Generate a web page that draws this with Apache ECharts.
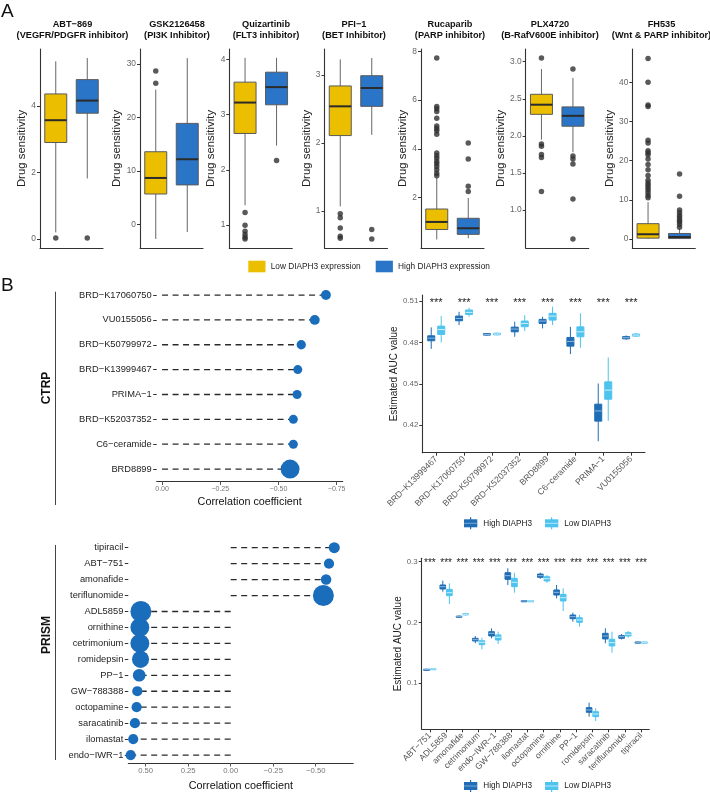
<!DOCTYPE html>
<html><head><meta charset="utf-8">
<script src="https://cdn.jsdelivr.net/npm/echarts@6/dist/echarts.min.js"></script>
<style>html,body{margin:0;padding:0;background:#fff}#c{width:710px;height:794px}</style>
</head><body><div id="c"></div>
<script>
// ================= DATA =================
// ---- Panel A ----
const drugNamesA = ['ABT−869', 'GSK2126458', 'Quizartinib', 'PFI−1', 'Rucaparib', 'PLX4720', 'FH535'];
const drugTargetsA = ['(VEGFR/PDGFR inhibitor)', '(PI3K Inhibitor)', '(FLT3 inhibitor)', '(BET Inhibitor)', '(PARP inhibitor)', '(B-RafV600E inhibitor)', '(Wnt & PARP inhibitor)'];
const groupNamesA = ['Low DIAPH3 expression', 'High DIAPH3 expression'];
// [lower whisker, Q1, median, Q3, upper whisker]
const lowBoxA = [
  [0.2, 2.9, 3.57, 4.36, 5.34],
  [-2.7, 5.7, 8.7, 13.6, 25.2],
  [1.36, 2.66, 3.22, 3.59, 4.03],
  [1.07, 2.11, 2.54, 2.84, 3.23],
  [0.28, 0.69, 1.0, 1.53, 2.81],
  [1.95, 2.29, 2.42, 2.56, 2.90],
  [0, 0.2, 1.2, 3.9, 9.4]
];
const highBoxA = [
  [1.82, 3.78, 4.16, 4.79, 5.44],
  [-1.4, 7.4, 12.2, 18.9, 31.1],
  [2.44, 3.18, 3.5, 3.77, 4.03],
  [2.12, 2.54, 2.81, 2.99, 3.25],
  [0.33, 0.49, 0.74, 1.15, 1.98],
  [1.78, 2.13, 2.27, 2.39, 2.78],
  [0, 0.1, 0.5, 1.4, 2.6]
];
const lowOutA = [
  [0.03],
  [26.4, 28.7],
  [1.23, 1.0, 0.89, 0.83, 0.78, 0.75],
  [0.96, 0.9, 0.75, 0.63, 0.6],
  [7.73, 5.74, 5.65, 5.53, 5.26, 4.94, 4.84, 4.74, 4.6, 3.83, 3.72, 3.61, 3.48, 3.39, 3.28, 3.14, 3.0, 2.9],
  [3.05, 1.89, 1.86, 1.75, 1.71, 1.25],
  [46.1, 40.0, 34.2, 33.8, 25.2, 24.5, 22.5, 22.0, 21.5, 20.4, 19.0, 17.7, 16.2, 15.0, 14.3, 13.7, 13.1, 12.5, 11.8, 11.1, 10.5]
];
const highOutA = [
  [0.03],
  [],
  [2.17],
  [0.73, 0.59],
  [4.24, 3.58, 2.47, 2.25],
  [2.9, 1.73, 1.69, 1.62, 1.15, 0.61],
  [16.6, 10.9, 7.4, 6.7, 6.0, 5.4, 4.8, 4.3, 3.7, 3.0]
];
const yTicksA = [[0, 2, 4], [0, 10, 20, 30], [1, 2, 3, 4], [1, 2, 3], [2, 4, 6, 8], [1.0, 1.5, 2.0, 2.5, 3.0], [0, 10, 20, 30, 40]];
const yRangeA = [[-0.27, 5.71], [-4.39, 32.8], [0.586, 4.19], [0.457, 3.383], [-0.07, 8.1], [0.49, 3.17], [-2.31, 48.5]];

// ---- Panel B: correlation lollipops ----
const ctrpDrugs = ['BRD−K17060750', 'VU0155056', 'BRD−K50799972', 'BRD−K13999467', 'PRIMA−1', 'BRD−K52037352', 'C6−ceramide', 'BRD8899'];
const ctrpCor = [-0.704, -0.656, -0.598, -0.583, -0.580, -0.564, -0.564, -0.550];
const ctrpDot = [3.3, 3.3, 3.1, 3.0, 3.0, 3.0, 3.0, 6.3];
const prismDrugs = ['tipiracil', 'ABT−751', 'amonafide', 'teriflunomide', 'ADL5859', 'ornithine', 'cetrimonium', 'romidepsin', 'PP−1', 'GW−788388', 'octopamine', 'saracatinib', 'ilomastat', 'endo−IWR−1'];
const prismCor = [-0.609, -0.578, -0.561, -0.545, 0.528, 0.534, 0.534, 0.530, 0.538, 0.549, 0.553, 0.563, 0.573, 0.588];
const prismDot = [3.7, 3.4, 3.5, 7.0, 7.0, 6.3, 6.3, 5.7, 4.2, 3.4, 3.4, 3.4, 3.4, 3.4];
const corTicksCTRP = [0, -0.25, -0.5, -0.75];
const corTicksPRISM = [0.5, 0.25, 0, -0.25, -0.5];

// ---- Panel B: estimated AUC boxplots ----
const ctrpBoxDrugs = ['BRD−K13999467', 'BRD−K17060750', 'BRD−K50799972', 'BRD−K52037352', 'BRD8899', 'C6−ceramide', 'PRIMA−1', 'VU0155056'];
const ctrpHigh = [
  [0.4753, 0.4812, 0.4831, 0.4848, 0.4909],
  [0.4926, 0.4957, 0.4974, 0.4991, 0.5022],
  [0.4850, 0.4853, 0.4858, 0.4864, 0.4867],
  [0.4841, 0.4877, 0.4897, 0.4911, 0.4950],
  [0.4902, 0.4938, 0.4955, 0.4967, 0.4986],
  [0.4715, 0.4773, 0.4807, 0.4836, 0.4913],
  [0.4083, 0.4229, 0.4303, 0.4352, 0.4502],
  [0.4818, 0.4826, 0.4834, 0.4842, 0.4851]
];
const ctrpLow = [
  [0.4800, 0.4858, 0.4894, 0.4918, 0.4991],
  [0.4986, 0.5003, 0.5018, 0.5035, 0.5051],
  [0.4852, 0.4855, 0.4861, 0.4867, 0.4870],
  [0.4882, 0.4914, 0.4938, 0.4955, 0.4998],
  [0.4926, 0.4962, 0.4991, 0.5011, 0.5059],
  [0.4761, 0.4841, 0.4877, 0.4913, 0.5011],
  [0.4231, 0.4388, 0.4454, 0.4514, 0.4691],
  [0.4840, 0.4846, 0.4853, 0.4861, 0.4868]
];
const ctrpSig = ['***', '***', '***', '***', '***', '***', '***', '***'];
const prismBoxDrugs = ['ABT−751', 'ADL5859', 'amonafide', 'cetrimonium', 'endo−IWR−1', 'GW−788388', 'ilomastat', 'octopamine', 'ornithine', 'PP−1', 'romidepsin', 'saracatinib', 'teriflunomide', 'tipiracil'];
const prismHigh = [
  [0.1212, 0.1218, 0.1225, 0.1232, 0.1238],
  [0.2507, 0.2551, 0.2589, 0.2617, 0.2688],
  [0.2075, 0.2085, 0.2095, 0.2105, 0.2115],
  [0.1658, 0.1696, 0.1717, 0.1740, 0.1778],
  [0.1740, 0.1778, 0.1822, 0.1849, 0.1904],
  [0.2617, 0.2710, 0.2770, 0.2819, 0.2891],
  [0.2342, 0.2348, 0.2354, 0.2360, 0.2366],
  [0.2720, 0.2743, 0.2770, 0.2797, 0.2820],
  [0.2398, 0.2452, 0.2496, 0.2535, 0.2617],
  [0.2013, 0.2063, 0.2096, 0.2123, 0.2161],
  [0.0451, 0.0523, 0.0561, 0.0599, 0.0681],
  [0.1658, 0.1729, 0.1778, 0.1822, 0.1904],
  [0.1720, 0.1740, 0.1767, 0.1783, 0.1810],
  [0.1662, 0.1668, 0.1674, 0.1680, 0.1686]
];
const prismLow = [
  [0.1222, 0.1228, 0.1235, 0.1242, 0.1248],
  [0.2304, 0.2441, 0.2490, 0.2546, 0.2644],
  [0.2115, 0.2125, 0.2135, 0.2145, 0.2155],
  [0.1560, 0.1635, 0.1674, 0.1700, 0.1750],
  [0.1646, 0.1712, 0.1757, 0.1795, 0.1849],
  [0.2490, 0.2589, 0.2661, 0.2727, 0.2819],
  [0.2342, 0.2348, 0.2354, 0.2360, 0.2366],
  [0.2655, 0.2683, 0.2720, 0.2753, 0.2780],
  [0.2189, 0.2354, 0.2408, 0.2463, 0.2562],
  [0.1931, 0.2003, 0.2041, 0.2079, 0.2123],
  [0.0380, 0.0451, 0.0495, 0.0533, 0.0589],
  [0.1503, 0.1614, 0.1668, 0.1724, 0.1849],
  [0.1750, 0.1778, 0.1806, 0.1832, 0.1860],
  [0.1662, 0.1668, 0.1674, 0.1680, 0.1686]
];
const prismSig = ['***', '***', '***', '***', '***', '***', '***', '***', '***', '***', '***', '***', '***', '***'];
const aucTicksCTRP = [0.42, 0.45, 0.48, 0.51];
const aucTicksPRISM = [0.1, 0.2, 0.3];

// ================= STYLE / LAYOUT =================
const FONT = '"Liberation Sans", Arial, Helvetica, sans-serif';
const YELLOW = '#EBBE00', BLUE_A = '#2A75C8';
const DOT = '#1A6DBB';
const HIGH_B = '#1F6DB4', LOW_B = '#4DC3EE';
const HIGH_MED = '#8DB9E2', LOW_MED = '#D3F0FB';
const AXIS = '#333';

const A_LEFT = [40, 140, 229.3, 324.5, 421, 525.7, 632.3];
const A_W = 63, A_TOP = 49, A_H = 199;
const A_TITLE_X = [72.5, 177, 266, 354, 450, 550, 661.5];
const A_NAMEGAP = [12, 17, 10.5, 10, 12, 18, 15];

const grids = [], xAxes = [], yAxes = [], series = [], graphics = [];

function boxRender(st) {
  return function (params, api) {
    const x = api.value(0);
    const pLo = api.coord([x, api.value(1)]);
    const pQ1 = api.coord([x, api.value(2)]);
    const pMd = api.coord([x, api.value(3)]);
    const pQ3 = api.coord([x, api.value(4)]);
    const pHi = api.coord([x, api.value(5)]);
    const cx = pLo[0] + st.offset;
    const hw = st.width / 2;
    return {
      type: 'group', children: [
        { type: 'line', shape: { x1: cx, y1: pHi[1], x2: cx, y2: pLo[1] }, style: { stroke: st.whisker, lineWidth: st.lw } },
        { type: 'rect', shape: { x: cx - hw, y: pQ3[1], width: st.width, height: Math.max(pQ1[1] - pQ3[1], 1.2) }, style: { fill: st.fill, stroke: st.border, lineWidth: st.lw } },
        { type: 'line', shape: { x1: cx - hw, y1: pMd[1], x2: cx + hw, y2: pMd[1] }, style: { stroke: st.median, lineWidth: st.mlw } }
      ]
    };
  };
}
const fmtCor = v => (v < 0 ? '−' : '') + Math.abs(v).toFixed(2);

// ---------- Panel A ----------
drugNamesA.forEach((name, i) => {
  grids.push({ left: A_LEFT[i], top: A_TOP, width: A_W, height: A_H, outerBoundsMode: 'none' });
  xAxes.push({
    type: 'category', gridIndex: i, data: groupNamesA,
    axisLine: { onZero: false, lineStyle: { color: AXIS, width: 1.1 } }, axisTick: { show: false }, axisLabel: { show: false }
  });
  yAxes.push({
    type: 'value', gridIndex: i, min: yRangeA[i][0], max: yRangeA[i][1],
    name: 'Drug sensitivity', nameLocation: 'middle', nameGap: A_NAMEGAP[i],
    nameTextStyle: { fontFamily: FONT, fontSize: 11.4, color: '#222' },
    axisLine: { show: true, onZero: false, lineStyle: { color: AXIS, width: 1.1 } },
    axisTick: { show: true, length: 3, customValues: yTicksA[i], lineStyle: { color: AXIS } },
    axisLabel: { customValues: yTicksA[i], fontFamily: FONT, fontSize: 8.4, color: '#666', margin: 4,
      formatter: v => (i === 5 ? Number(v).toFixed(1) : String(v)) },
    splitLine: { show: false }
  });
  [[lowBoxA, YELLOW, 0], [highBoxA, BLUE_A, 1]].forEach(([arr, col, ci]) => {
    series.push({
      type: 'custom', xAxisIndex: i, yAxisIndex: i, silent: true,
      renderItem: boxRender({ offset: 0, width: 22, fill: col, border: '#5a5a5a', whisker: '#666', median: '#2b2b2b', lw: 1, mlw: 2 }),
      encode: { x: 0, y: [1, 2, 3, 4, 5] },
      data: [[ci].concat(arr[i])]
    });
  });
  [[lowOutA, 0], [highOutA, 1]].forEach(([arr, ci]) => {
    series.push({
      type: 'scatter', xAxisIndex: i, yAxisIndex: i, silent: true, symbolSize: 5.5,
      itemStyle: { color: '#2f2f2f' }, data: arr[i].map(v => [ci, v])
    });
  });
  graphics.push({ type: 'text', silent: true, x: A_TITLE_X[i], y: 29.5,
    style: { text: name + '\n' + drugTargetsA[i], font: 'bold 9.2px ' + FONT, fill: '#111', align: 'center', verticalAlign: 'middle', lineHeight: 11 } });
});

// ---------- Panel B lollipops ----------
function lollipop(gi, grid, cats, cors, dots, xmin, xmax, ticks, tickFont, nameGap) {
  grids.push(Object.assign({ outerBoundsMode: 'none' }, grid));
  xAxes.push({
    type: 'value', gridIndex: gi, inverse: true, min: xmin, max: xmax,
    name: 'Correlation coefficient', nameLocation: 'middle', nameGap: nameGap,
    nameTextStyle: { fontFamily: FONT, fontSize: 10.8, color: '#111' },
    axisLine: { show: true, onZero: false, lineStyle: { color: AXIS, width: 1.1 } },
    axisTick: { show: true, length: 3.5, customValues: ticks, lineStyle: { color: '#555' } },
    axisLabel: { customValues: ticks, fontFamily: FONT, fontSize: tickFont, color: '#777', margin: 4, formatter: fmtCor },
    splitLine: { show: false }
  });
  yAxes.push({
    type: 'category', gridIndex: gi, inverse: true, data: cats,
    axisLine: { show: false, onZero: false },
    axisTick: { show: true, alignWithLabel: true, length: 3.5, lineStyle: { color: '#333' } },
    axisLabel: { fontFamily: FONT, fontSize: 9.3, color: '#222', margin: 5 },
    splitLine: { show: false }
  });
  series.push({
    type: 'custom', xAxisIndex: gi, yAxisIndex: gi, silent: true,
    encode: { x: 0, y: 1 },
    renderItem: (params, api) => {
      const p0 = api.coord([0, api.value(1)]);
      const p1 = api.coord([api.value(0), api.value(1)]);
      return { type: 'line', shape: { x1: p0[0], y1: p0[1], x2: p1[0], y2: p1[1] }, style: { stroke: '#2a2a2a', lineWidth: 1.3, lineDash: [6, 4.5] } };
    },
    data: cors.map((v, k) => [v, k])
  });
  series.push({
    type: 'scatter', xAxisIndex: gi, yAxisIndex: gi, silent: true,
    symbolSize: (val, p) => 3 * dots[p.dataIndex],
    itemStyle: { color: DOT, opacity: 1 },
    data: cors.map((v, k) => [v, k])
  });
}
lollipop(7, { left: 156.7, top: 282.6, width: 186, height: 198.9 }, ctrpDrugs, ctrpCor, ctrpDot, -0.776, 0.023, corTicksCTRP, 7, 15.5);
lollipop(8, { left: 128.3, top: 539.7, width: 225, height: 223.3 }, prismDrugs, prismCor, prismDot, -0.721, 0.602, corTicksPRISM, 7.7, 18);

// ---------- Panel B boxplots ----------
function aucBox(gi, grid, cats, high, low, ymin, ymax, ticks, dec, nameGap, off, bw, sig, sigY, sigFont) {
  grids.push(Object.assign({ outerBoundsMode: 'none' }, grid));
  xAxes.push({
    type: 'category', gridIndex: gi, data: cats,
    axisLine: { onZero: false, lineStyle: { color: AXIS, width: 1.1 } },
    axisTick: { show: true, alignWithLabel: true, length: 3, lineStyle: { color: '#333' } },
    axisLabel: { interval: 0, rotate: 45, fontFamily: FONT, fontSize: 8.6, color: '#555', margin: 5 }
  });
  yAxes.push({
    type: 'value', gridIndex: gi, min: ymin, max: ymax,
    name: 'Estimated AUC value', nameLocation: 'middle', nameGap: nameGap,
    nameTextStyle: { fontFamily: FONT, fontSize: 10, color: '#222' },
    axisLine: { show: true, onZero: false, lineStyle: { color: AXIS, width: 1.1 } },
    axisTick: { show: true, length: 3, customValues: ticks, lineStyle: { color: '#333' } },
    axisLabel: { customValues: ticks, fontFamily: FONT, fontSize: 7.9, color: '#666', margin: 4, formatter: v => Number(v).toFixed(dec) },
    splitLine: { show: false }
  });
  [[high, HIGH_B, HIGH_MED, -off, 'High DIAPH3'], [low, LOW_B, LOW_MED, off, 'Low DIAPH3']].forEach(([arr, col, med, o, nm]) => {
    series.push({
      type: 'custom', name: nm, xAxisIndex: gi, yAxisIndex: gi, silent: true,
      renderItem: boxRender({ offset: o, width: bw, fill: col, border: col, whisker: col, median: med, lw: 1, mlw: 1 }),
      encode: { x: 0, y: [1, 2, 3, 4, 5] },
      data: arr.map((r, k) => [k].concat(r))
    });
  });
  series.push({
    type: 'custom', xAxisIndex: gi, yAxisIndex: gi, silent: true, encode: { x: 0, y: 1 },
    renderItem: (params, api) => {
      const p = api.coord([api.value(0), api.value(1)]);
      return { type: 'text', x: p[0], y: p[1], style: { text: sig[params.dataIndex], font: sigFont + 'px ' + FONT, fill: '#222', align: 'center', verticalAlign: 'middle' } };
    },
    data: sig.map((s, k) => [k, sigY])
  });
}
aucBox(9, { left: 422.3, top: 295, width: 222.7, height: 157.7 }, ctrpBoxDrugs, ctrpHigh, ctrpLow, 0.4, 0.5144, aucTicksCTRP, 2, 23.5, 5, 7, ctrpSig, 0.5086, 11);
aucBox(10, { left: 421.7, top: 558.3, width: 227.6, height: 171 }, prismBoxDrugs, prismHigh, prismLow, 0.0243, 0.3056, aucTicksPRISM, 1, 18, 3.3, 5.6, prismSig, 0.2982, 10);

// ---------- decorations ----------
graphics.push({ type: 'text', silent: true, x: 1, y: 11.5, style: { text: 'A', font: '19px ' + FONT, fill: '#111', align: 'left', verticalAlign: 'middle' } });
graphics.push({ type: 'text', silent: true, x: 1, y: 285.5, style: { text: 'B', font: '19px ' + FONT, fill: '#111', align: 'left', verticalAlign: 'middle' } });
// Panel A legend
[[248.3, YELLOW, groupNamesA[0]], [375.7, BLUE_A, groupNamesA[1]]].forEach(([x, col, t]) => {
  graphics.push({ type: 'rect', silent: true, shape: { x: x, y: 260.7, width: 17.2, height: 11.6 }, style: { fill: col } });
  graphics.push({ type: 'text', silent: true, x: x + 22.4, y: 266.5, style: { text: t, font: '8.3px ' + FONT, fill: '#222', align: 'left', verticalAlign: 'middle' } });
});
// Panel B legends
[523.3, 786].forEach(cy => {
  [[464, HIGH_B, HIGH_MED, 'High DIAPH3'], [545, LOW_B, LOW_MED, 'Low DIAPH3']].forEach(([x, col, med, t]) => {
    graphics.push({ type: 'line', silent: true, shape: { x1: x + 6.6, y1: cy - 6, x2: x + 6.6, y2: cy + 6 }, style: { stroke: col, lineWidth: 1.2 } });
    graphics.push({ type: 'rect', silent: true, shape: { x: x, y: cy - 4, width: 13.3, height: 8 }, style: { fill: col } });
    graphics.push({ type: 'line', silent: true, shape: { x1: x, y1: cy, x2: x + 13.3, y2: cy }, style: { stroke: med, lineWidth: 0.8 } });
    graphics.push({ type: 'text', silent: true, x: x + 19.3, y: cy, style: { text: t, font: '8.2px ' + FONT, fill: '#222', align: 'left', verticalAlign: 'middle' } });
  });
});
// Facet strips
[['CTRP', 291.7, 505, 388], ['PRISM', 545, 760, 635]].forEach(([t, y1, y2, cy]) => {
  graphics.push({ type: 'line', silent: true, shape: { x1: 55.5, y1: y1, x2: 55.5, y2: y2 }, style: { stroke: '#444', lineWidth: 1 } });
  graphics.push({ type: 'text', silent: true, x: 46.5, y: cy, rotation: Math.PI / 2, style: { text: t, font: 'bold 12px ' + FONT, fill: '#111', align: 'center', verticalAlign: 'middle' } });
});

const chart = echarts.init(document.getElementById('c'), null, { renderer: 'canvas' });
chart.setOption({
  backgroundColor: '#fff',
  animation: false,
  textStyle: { fontFamily: FONT },
  grid: grids, xAxis: xAxes, yAxis: yAxes, series: series, graphic: graphics
});
</script></body></html>
